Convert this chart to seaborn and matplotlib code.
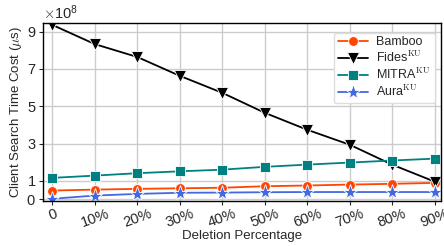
import numpy as np
import pandas as pd
import matplotlib
matplotlib.use("Agg")
import matplotlib.pyplot as plt
import seaborn as sns

# data (client search time cost, in units of 1e8 microseconds)
deletion = ["0", "10%", "20%", "30%", "40%", "50%", "60%", "70%", "80%", "90%"]
bamboo = [0.48, 0.53, 0.57, 0.60, 0.63, 0.71, 0.75, 0.80, 0.84, 0.89]
fides = [9.36, 8.33, 7.64, 6.63, 5.72, 4.65, 3.74, 2.94, 1.87, 0.96]
mitra = [1.16, 1.28, 1.41, 1.51, 1.60, 1.75, 1.87, 1.98, 2.09, 2.19]
aura = [0.04, 0.21, 0.30, 0.36, 0.37, 0.39, 0.40, 0.40, 0.40, 0.40]

labels = ["Bamboo", r"Fides$^{\rm KU}$", r"MITRA$^{\rm KU}$", r"Aura$^{\rm KU}$"]
colors = ["#ff4500", "black", "#008080", "#4169e1"]
markers = ["o", "v", "s", "*"]
msizes = [7, 8, 7, 11]

rows = []
for name, vals in zip(labels, [bamboo, fides, mitra, aura]):
    for i, v in enumerate(vals):
        rows.append({"x": i, "y": v * 1e8, "scheme": name})
df = pd.DataFrame(rows)

sns.set_style("whitegrid")
plt.rcParams['font.family'] = ['Liberation Sans', 'DejaVu Sans']
plt.rcParams['mathtext.fontset'] = 'cm'
plt.rcParams['mathtext.rm'] = 'serif'
plt.rcParams['axes.formatter.use_mathtext'] = True

fig, ax = plt.subplots(figsize=(4.44, 2.46), dpi=100)
fig.subplots_adjust(left=0.097, right=0.993, top=0.907, bottom=0.183)

sns.lineplot(data=df, x="x", y="y", hue="scheme", style="scheme",
             palette=colors, markers=markers, dashes=False,
             markeredgewidth=0.6, linewidth=1.3, ax=ax)
for line, ms in zip(ax.lines, msizes):
    line.set_markersize(ms)

ax.set_xlim(-0.22, 9.15)
ax.set_ylim(-0.08e8, 9.47e8)
ax.set_xticks(range(len(deletion)))
ax.set_xticklabels(deletion, rotation=20, fontsize=10.5)
ax.set_yticks([0, 1e8, 3e8, 5e8, 7e8, 9e8])
ax.tick_params(axis='y', labelsize=10.5, length=3, width=0.8, left=True, pad=2)
ax.tick_params(axis='x', length=3, width=0.8, bottom=True, pad=1)
ax.yaxis.get_offset_text().set_fontsize(10.5)
ax.set_xlabel("Deletion Percentage", fontsize=9.5, labelpad=0)
ax.set_ylabel(r"Client Search Time Cost ($\mu$s)", fontsize=9.5, labelpad=2)

for s in ax.spines.values():
    s.set_color("black")
    s.set_linewidth(1.0)
ax.grid(True, color="#cccccc", linewidth=1.0)

leg = ax.legend(loc="upper right", fontsize=9, frameon=True, framealpha=1,
                edgecolor="#dddddd", handlelength=2.4, borderpad=0.3,
                labelspacing=0.15, handletextpad=0.7,
                bbox_to_anchor=(1.0, 0.98))
for h, ms in zip(leg.legend_handles, msizes):
    h.set_markersize(ms)

plt.savefig("out.png", dpi=100)
